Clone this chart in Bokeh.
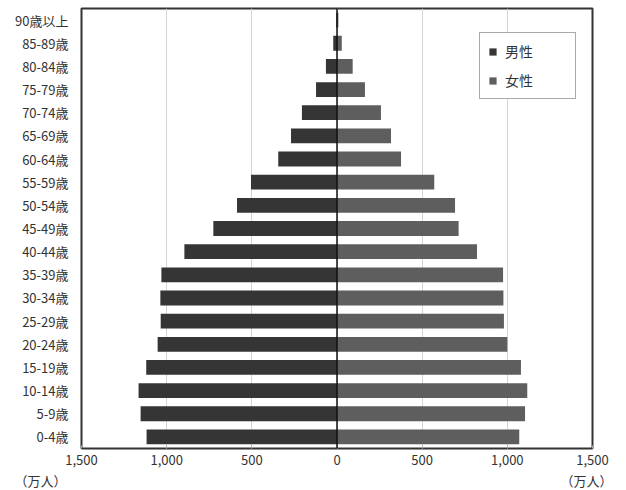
from bokeh.plotting import figure
from bokeh.models import ColumnDataSource, FixedTicker, Legend, LegendItem, Title, Span
from bokeh.embed import file_html
from bokeh.resources import INLINE

ages = ["0-4歳", "5-9歳", "10-14歳", "15-19歳", "20-24歳", "25-29歳", "30-34歳",
        "35-39歳", "40-44歳", "45-49歳", "50-54歳", "55-59歳", "60-64歳", "65-69歳",
        "70-74歳", "75-79歳", "80-84歳", "85-89歳", "90歳以上"]
male = [1118, 1153, 1165, 1120, 1053, 1035, 1037, 1031, 896, 726, 587, 505, 345, 270,
        206, 123, 65, 22, 4]
female = [1070, 1104, 1117, 1080, 1000, 980, 977, 975, 822, 714, 693, 571, 376, 317,
          258, 164, 92, 28, 8]
tick_values = [-1500, -1000, -500, 0, 500, 1000, 1500]
tick_labels = ["1,500", "1,000", "500", "0", "500", "1,000", "1,500"]
series_names = ["男性", "女性"]
unit_label = "（万人）"

FONT = "Noto Sans CJK JP"
MALE_C = "#353535"
FEMALE_C = "#5e5e5e"

src = ColumnDataSource(dict(age=ages, mneg=[-v for v in male], f=female,
                            zero=[0] * len(ages)))

p = figure(y_range=ages, x_range=(-1500, 1500), width=626, height=490,
           frame_width=511, frame_height=440,
           min_border_left=81, min_border_right=34, min_border_top=8, min_border_bottom=0,
           output_backend="svg", toolbar_location=None)

rm = p.hbar(y="age", left="mneg", right="zero", height=0.64, source=src,
            fill_color=MALE_C, line_color=None)
rf = p.hbar(y="age", left="zero", right="f", height=0.64, source=src,
            fill_color=FEMALE_C, line_color=None)

p.add_layout(Span(location=0, dimension="height", line_color="#111111", line_width=1.5))

p.xaxis.ticker = FixedTicker(ticks=tick_values)
p.xaxis.major_label_overrides = {float(t): l for t, l in zip(tick_values, tick_labels)}
p.xaxis.axis_line_color = None
p.xaxis.major_tick_line_color = "#aaaaaa"
p.xaxis.major_tick_in = 3
p.xaxis.major_tick_out = 0
p.xaxis.minor_tick_line_color = None
p.xaxis.major_label_text_font = FONT
p.xaxis.major_label_text_font_size = "13px"
p.xaxis.major_label_text_color = "#333333"
p.xaxis.major_label_standoff = 6

p.yaxis.axis_line_color = None
p.yaxis.major_tick_line_color = None
p.yaxis.minor_tick_line_color = None
p.yaxis.major_label_text_font = FONT
p.yaxis.major_label_text_font_size = "13px"
p.yaxis.major_label_text_color = "#333333"
p.yaxis.major_label_standoff = 7

p.xgrid.grid_line_color = "#d4d4d4"
p.xgrid.grid_line_width = 1
p.ygrid.grid_line_color = None

p.outline_line_color = "#333333"
p.outline_line_width = 2

legend = Legend(items=[LegendItem(label=series_names[0], renderers=[rm]),
                       LegendItem(label=series_names[1], renderers=[rf])],
                location=(398, 349))
legend.glyph_width = 9
legend.glyph_height = 9
legend.label_text_font = FONT
legend.label_text_font_size = "14px"
legend.label_text_color = "#333333"
legend.label_height = 16
legend.label_width = 62
legend.label_standoff = 8
legend.spacing = 9
legend.padding = 8
legend.margin = 0
legend.border_line_color = "#555555"
legend.border_line_width = 1.5
legend.background_fill_alpha = 1
p.add_layout(legend)

gap = "\u3000" * 39
unit_title = Title(text=unit_label + gap + unit_label, align="left", offset=-67,
                   text_font=FONT, text_font_size="13px", text_font_style="normal",
                   text_color="#333333", standoff=2)
p.add_layout(unit_title, "below")

open("out.html", "w").write(file_html(p, INLINE))
